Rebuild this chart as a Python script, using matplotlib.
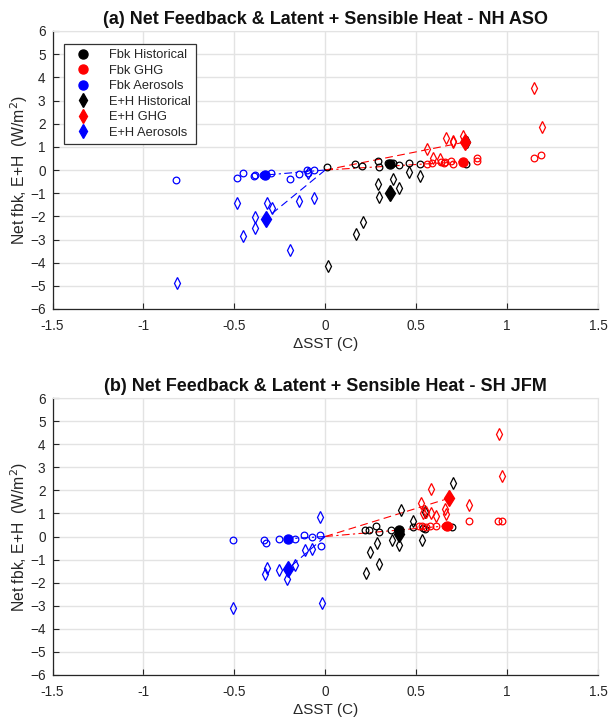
import matplotlib
matplotlib.use("Agg")
import matplotlib.pyplot as plt
from matplotlib.lines import Line2D

plt.rcParams['font.family'] = ['Liberation Sans', 'DejaVu Sans']

# ---------------- panel (a): NH ASO ----------------
a_fbk_hist_x = [0.010, 0.166, 0.204, 0.290, 0.294, 0.345, 0.370, 0.404, 0.460, 0.519, 0.776]
a_fbk_hist_y = [0.14, 0.26, 0.19, 0.40, 0.14, 0.30, 0.31, 0.20, 0.32, 0.26, 0.27]
a_eh_hist_x = [0.013, 0.170, 0.207, 0.292, 0.296, 0.373, 0.404, 0.460, 0.520, 0.777]
a_eh_hist_y = [-4.14, -2.77, -2.23, -0.60, -1.15, -0.40, -0.76, -0.07, -0.26, 1.22]
a_fbk_ghg_x = [0.557, 0.586, 0.634, 0.652, 0.661, 0.694, 0.701, 0.833, 0.837, 1.147, 1.189]
a_fbk_ghg_y = [0.27, 0.29, 0.33, 0.30, 0.33, 0.39, 0.27, 0.52, 0.37, 0.52, 0.66]
a_eh_ghg_x = [0.559, 0.590, 0.630, 0.663, 0.700, 0.705, 0.758, 1.150, 1.192]
a_eh_ghg_y = [0.89, 0.53, 0.46, 1.38, 1.21, 1.25, 1.47, 3.56, 1.85]
a_fbk_aer_x = [-0.821, -0.488, -0.455, -0.391, -0.385, -0.345, -0.296, -0.196, -0.146, -0.099, -0.095, -0.064]
a_fbk_aer_y = [-0.43, -0.33, -0.14, -0.26, -0.23, -0.22, -0.14, -0.40, -0.19, 0.00, -0.11, 0.00]
a_eh_aer_x = [-0.814, -0.484, -0.452, -0.388, -0.384, -0.320, -0.293, -0.196, -0.143, -0.095, -0.062]
a_eh_aer_y = [-4.89, -1.44, -2.87, -2.05, -2.49, -1.44, -1.65, -3.45, -1.32, -0.14, -1.19]
# ensemble means: [hist, ghg, aer]
a_fbk_mean_x = [0.354, 0.758, -0.333]
a_fbk_mean_y = [0.26, 0.36, -0.22]
a_eh_mean_x = [0.354, 0.766, -0.327]
a_eh_mean_y = [-0.98, 1.20, -2.10]

# ---------------- panel (b): SH JFM ----------------
b_fbk_hist_x = [0.220, 0.242, 0.278, 0.293, 0.364, 0.410, 0.484, 0.535, 0.548, 0.698]
b_fbk_hist_y = [0.26, 0.26, 0.45, 0.20, 0.27, 0.20, 0.42, 0.36, 0.32, 0.39]
b_eh_hist_x = [0.222, 0.244, 0.282, 0.295, 0.366, 0.405, 0.419, 0.485, 0.533, 0.548, 0.700]
b_eh_hist_y = [-1.58, -0.69, -0.29, -1.17, -0.16, -0.35, 1.16, 0.66, -0.17, 1.07, 2.31]
b_fbk_ghg_x = [0.516, 0.531, 0.553, 0.575, 0.608, 0.657, 0.678, 0.789, 0.951, 0.973]
b_fbk_ghg_y = [0.46, 0.46, 0.42, 0.46, 0.46, 0.46, 0.46, 0.65, 0.65, 0.65]
b_eh_ghg_x = [0.524, 0.537, 0.553, 0.579, 0.579, 0.610, 0.661, 0.665, 0.791, 0.954, 0.974]
b_eh_ghg_y = [1.46, 1.01, 1.04, 2.07, 1.01, 0.87, 1.17, 0.98, 1.37, 4.44, 2.60]
b_fbk_aer_x = [-0.510, -0.336, -0.324, -0.254, -0.168, -0.117, -0.073, -0.031, -0.024]
b_fbk_aer_y = [-0.17, -0.13, -0.26, -0.12, -0.10, 0.06, 0.00, 0.06, -0.40]
b_eh_aer_x = [-0.506, -0.333, -0.322, -0.252, -0.210, -0.165, -0.113, -0.073, -0.027, -0.020]
b_eh_aer_y = [-3.08, -1.63, -1.36, -1.43, -1.85, -1.24, -0.59, -0.52, 0.84, -2.86]
b_fbk_mean_x = [0.405, 0.667, -0.207]
b_fbk_mean_y = [0.30, 0.46, -0.10]
b_eh_mean_x = [0.405, 0.678, -0.203]
b_eh_mean_y = [0.12, 1.65, -1.39]

colors = ["k", "r", "b"]
xticks = [-1.5, -1, -0.5, 0, 0.5, 1, 1.5]
xticklabels = ["-1.5", "-1", "-0.5", "0", "0.5", "1", "1.5"]
yticks = list(range(-6, 7))
labels = ["Fbk Historical", "Fbk GHG", "Fbk Aerosols",
          "E+H Historical", "E+H GHG", "E+H Aerosols"]

W, H = 609, 717
fig = plt.figure(figsize=(W / 100, H / 100), dpi=100)
ax_a = fig.add_axes([52.5 / W, (H - 309) / H, 545.5 / W, 278 / H])
ax_b = fig.add_axes([52.5 / W, (H - 675) / H, 545.5 / W, 277 / H])

GRID = "#e3e3e3"
TXT = "#262626"


def draw_panel(ax, fbk, eh, fbk_mx, fbk_my, eh_mx, eh_my, title, legend=False):
    ax.grid(True, color=GRID, linewidth=1.0)
    ax.set_axisbelow(True)
    # dashed lines from origin to GHG / aerosol means
    for i in (1, 2):
        ax.plot([0, fbk_mx[i]], [0, fbk_my[i]], color=colors[i], ls=(0, (7, 3, 2, 3)), lw=0.8, zorder=2)
        ax.plot([0, eh_mx[i]], [0, eh_my[i]], color=colors[i], ls=(0, (7, 4)), lw=0.8, zorder=2)
    for i, c in enumerate(colors):
        ax.plot(fbk[i][0], fbk[i][1], ls="none", marker="o", ms=4.8, mfc="none",
                mec=c, mew=0.9, zorder=3)
        ax.plot(eh[i][0], eh[i][1], ls="none", marker="d", ms=5.8, mfc="none",
                mec=c, mew=0.9, zorder=3)
        ax.plot(fbk_mx[i], fbk_my[i], ls="none", marker="o", ms=6.5, color=c, zorder=4)
        ax.plot(eh_mx[i], eh_my[i], ls="none", marker="d", ms=8, color=c, zorder=4)
    ax.set_xlim(-1.5, 1.5)
    ax.set_ylim(-6, 6)
    ax.set_xticks(xticks)
    ax.set_xticklabels(xticklabels)
    ax.set_yticks(yticks)
    ax.tick_params(direction="in", length=4, width=0.8, colors=TXT, labelsize=9.8,
                   top=False, right=False)
    ax.tick_params(axis="x", pad=7)
    ax.tick_params(axis="y", pad=5)
    for s in ("top", "right"):
        ax.spines[s].set_color(GRID)
    for s in ("left", "bottom"):
        ax.spines[s].set_color(TXT)
        ax.spines[s].set_linewidth(0.9)
    ax.set_xlabel("ΔSST (C)", fontsize=11, color=TXT, labelpad=3)
    ax.set_ylabel("Net fbk, E+H  (W/m$^2$)", fontsize=11.3, color=TXT, labelpad=0)
    ax.set_title(title, fontsize=13, fontweight="bold", color="#111111", pad=5)
    if legend:
        handles = []
        for c in colors:
            handles.append(Line2D([], [], ls="none", marker="o", ms=6.5, color=c))
        for c in colors:
            handles.append(Line2D([], [], ls="none", marker="d", ms=7, color=c))
        leg = ax.legend(handles, labels, loc="upper left", fontsize=9.3,
                        bbox_to_anchor=(0.021, 0.953), borderaxespad=0,
                        handletextpad=0.9, handlelength=2.2, labelspacing=0.27,
                        borderpad=0.4, fancybox=False, framealpha=1,
                        edgecolor="#333333")
        leg.get_frame().set_linewidth(0.9)
        for t in leg.get_texts():
            t.set_color(TXT)


draw_panel(ax_a,
           [(a_fbk_hist_x, a_fbk_hist_y), (a_fbk_ghg_x, a_fbk_ghg_y), (a_fbk_aer_x, a_fbk_aer_y)],
           [(a_eh_hist_x, a_eh_hist_y), (a_eh_ghg_x, a_eh_ghg_y), (a_eh_aer_x, a_eh_aer_y)],
           a_fbk_mean_x, a_fbk_mean_y, a_eh_mean_x, a_eh_mean_y,
           "(a) Net Feedback & Latent + Sensible Heat - NH ASO", legend=True)
draw_panel(ax_b,
           [(b_fbk_hist_x, b_fbk_hist_y), (b_fbk_ghg_x, b_fbk_ghg_y), (b_fbk_aer_x, b_fbk_aer_y)],
           [(b_eh_hist_x, b_eh_hist_y), (b_eh_ghg_x, b_eh_ghg_y), (b_eh_aer_x, b_eh_aer_y)],
           b_fbk_mean_x, b_fbk_mean_y, b_eh_mean_x, b_eh_mean_y,
           "(b) Net Feedback & Latent + Sensible Heat - SH JFM")

fig.savefig("out.png", dpi=100)
